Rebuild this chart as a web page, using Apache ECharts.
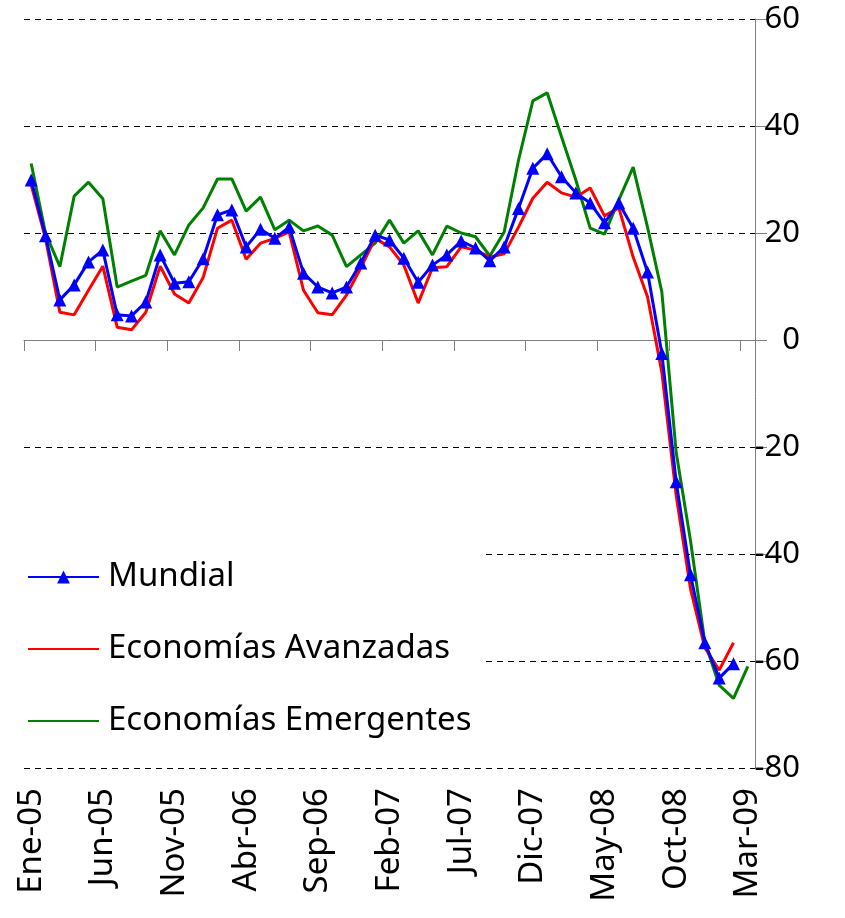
<!DOCTYPE html>
<html>
<head>
<meta charset="utf-8">
<script src="https://cdn.jsdelivr.net/npm/echarts@6/dist/echarts.min.js"></script>
<style>
  html, body { margin: 0; padding: 0; background: #fff; }
  #chart { width: 845px; height: 918px; }
</style>
</head>
<body>
<div id="chart"></div>
<script>
// meses Ene-05 .. Mar-09
const months = [
  'Ene-05', 'Feb-05', 'Mar-05', 'Abr-05', 'May-05', 'Jun-05', 'Jul-05', 'Ago-05', 'Sep-05', 'Oct-05', 'Nov-05', 'Dic-05',
  'Ene-06', 'Feb-06', 'Mar-06', 'Abr-06', 'May-06', 'Jun-06', 'Jul-06', 'Ago-06', 'Sep-06', 'Oct-06', 'Nov-06', 'Dic-06',
  'Ene-07', 'Feb-07', 'Mar-07', 'Abr-07', 'May-07', 'Jun-07', 'Jul-07', 'Ago-07', 'Sep-07', 'Oct-07', 'Nov-07', 'Dic-07',
  'Ene-08', 'Feb-08', 'Mar-08', 'Abr-08', 'May-08', 'Jun-08', 'Jul-08', 'Ago-08', 'Sep-08', 'Oct-08', 'Nov-08', 'Dic-08',
  'Ene-09', 'Feb-09', 'Mar-09'
]

const mundial = [
  29.9, 19.5, 7.5, 10.3, 14.6, 16.8, 4.7, 4.5, 7.1, 15.9, 10.6, 10.9,
  15.2, 23.4, 24.3, 17.4, 20.7, 19.0, 21.1, 12.5, 9.9, 8.8, 9.9, 14.4,
  19.6, 18.7, 15.3, 10.8, 14.0, 15.9, 18.5, 17.2, 14.8, 17.4, 24.6, 32.1,
  34.8, 30.5, 27.5, 25.6, 21.9, 25.6, 20.9, 12.7, -2.5, -26.5, -43.9, -56.6,
  -63.2, -60.5, null
]

const avanzadas = [
  29.0, 19.0, 5.2, 4.7, 9.3, 13.8, 2.4, 1.9, 5.2, 13.8, 8.6, 6.9,
  11.7, 20.9, 22.4, 15.1, 18.1, 19.0, 20.2, 9.3, 5.1, 4.7, 8.4, 13.5,
  19.0, 17.4, 14.0, 6.9, 13.5, 13.7, 17.4, 16.8, 15.5, 16.1, 21.1, 26.5,
  29.5, 27.5, 26.7, 28.4, 23.2, 24.7, 15.5, 8.1, -6.0, -29.0, -46.5, -57.5,
  -61.7, -56.6, null
]

const emergentes = [
  33.0, 20.0, 13.7, 26.9, 29.5, 26.4, 9.9, 11.0, 12.1, 20.4, 15.9, 21.5,
  24.7, 30.1, 30.1, 24.1, 26.7, 20.6, 22.4, 20.4, 21.3, 19.6, 13.7, 15.9,
  18.1, 22.4, 18.1, 20.4, 15.9, 21.3, 20.0, 19.3, 15.7, 20.2, 33.6, 44.7,
  46.2, 38.0, 29.9, 20.9, 19.8, 26.2, 32.3, 21.1, 9.0, -21.0, -37.5, -56.5,
  -64.5, -67.0, -61.0
]

const FONT = 'Noto Sans'

const chart = echarts.init(document.getElementById('chart'))

chart.setOption({
  animation: false,
  backgroundColor: '#fff',
  grid: { left: 24, right: 90, top: 19, bottom: 150 },
  legend: {
    orient: 'vertical',
    left: 13,
    top: 547,
    padding: [10, 14, 10, 14],
    backgroundColor: '#fff',
    itemWidth: 71,
    itemHeight: 16,
    itemGap: 32,
    textStyle: { fontFamily: FONT, fontSize: 33, color: '#000', lineHeight: 40, padding: [0, 0, 0, 4] },
    data: [
      { name: 'Mundial' },
      { name: 'Economías Avanzadas', itemStyle: { opacity: 0 } },
      { name: 'Economías Emergentes', itemStyle: { opacity: 0 } }
    ]
  },
  xAxis: [
    {
      type: 'category',
      data: months,
      position: 'bottom',
      boundaryGap: true,
      axisLine: { show: false, onZero: false },
      axisTick: { show: false },
      splitLine: { show: false },
      axisLabel: {
        interval: 4,
        rotate: 90,
        margin: 20,
        fontFamily: FONT,
        fontSize: 33,
        color: '#000'
      }
    },
    {
      type: 'category',
      data: months,
      position: 'bottom',
      boundaryGap: true,
      axisLine: { show: true, onZero: true, lineStyle: { color: '#808080', width: 1 } },
      axisTick: { show: true, interval: 4, length: 11, inside: false, lineStyle: { color: '#808080' } },
      axisLabel: { show: false },
      splitLine: { show: false }
    }
  ],
  yAxis: {
    type: 'value',
    position: 'right',
    min: -80,
    max: 60,
    interval: 20,
    axisLine: { show: true, lineStyle: { color: '#808080', width: 1 } },
    axisTick: { show: true, inside: false, length: 12, lineStyle: { color: '#808080' } },
    axisLabel: {
      margin: 45,
      align: 'right',
      fontFamily: FONT,
      fontSize: 31,
      color: '#000'
    },
    splitLine: { show: true, lineStyle: { color: '#000', width: 1, type: [6, 5] } }
  },
  series: [
    {
      name: 'Economías Emergentes',
      type: 'line',
      data: emergentes,
      symbol: 'none',
      lineStyle: { color: '#008000', width: 3 },
      itemStyle: { color: '#008000' },
      z: 2
    },
    {
      name: 'Economías Avanzadas',
      type: 'line',
      data: avanzadas,
      symbol: 'none',
      lineStyle: { color: '#ff0000', width: 3 },
      itemStyle: { color: '#ff0000' },
      z: 3
    },
    {
      name: 'Mundial',
      type: 'line',
      data: mundial,
      symbol: 'triangle',
      symbolSize: 13,
      showSymbol: true,
      showAllSymbol: true,
      lineStyle: { color: '#0000ff', width: 3 },
      itemStyle: { color: '#0000ff' },
      z: 4
    }
  ]
})
</script>
</body>
</html>
